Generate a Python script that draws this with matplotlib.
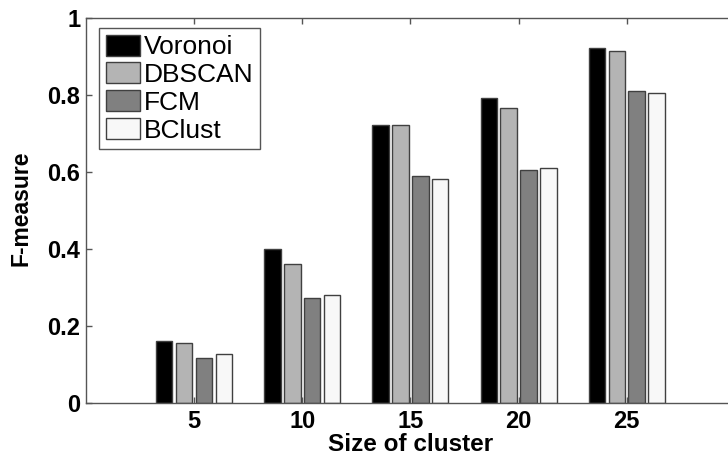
import matplotlib
matplotlib.use('Agg')
import matplotlib.pyplot as plt
import numpy as np

# cluster sizes on the x axis
sizes = [5, 10, 15, 20, 25]

# F-measure per method
voronoi = [0.161, 0.400, 0.722, 0.792, 0.921]
dbscan = [0.157, 0.362, 0.722, 0.766, 0.914]
fcm = [0.116, 0.274, 0.590, 0.606, 0.810]
bclust = [0.128, 0.281, 0.581, 0.610, 0.806]

methods = ['Voronoi', 'DBSCAN', 'FCM', 'BClust']
colors = ['#000000', '#b4b4b4', '#808080', '#f8f8f8']

plt.rcParams['font.family'] = ['Liberation Sans', 'DejaVu Sans']

fig = plt.figure(figsize = (7.28, 4.57), dpi = 100)
ax = fig.add_axes([0.118, 0.118, 0.8915, 0.8426])

x = np.array(sizes, dtype = float)
step = 0.92
width = 0.76
series = [voronoi, dbscan, fcm, bclust]
for i, (vals, name, col) in enumerate(zip(series, methods, colors)):
    ax.bar(x + (i - 1.5) * step, vals, width, color = col, edgecolor = '#404040',
           linewidth = 1.0, label = name)

ax.set_xlim(0, 30)
ax.set_ylim(0, 1)
ax.set_xticks(sizes)
ax.set_yticks([0, 0.2, 0.4, 0.6, 0.8, 1])
ax.set_yticklabels(['0', '0.2', '0.4', '0.6', '0.8', '1'])

for lab in ax.get_xticklabels() + ax.get_yticklabels():
    lab.set_fontweight('bold')
    lab.set_fontsize(17)

ax.tick_params(axis = 'x', pad = 5)
ax.tick_params(axis = 'y', pad = 4)
ax.tick_params(direction = 'in', length = 4, width = 1, color = '#555555',
               top = True, right = True)
for s in ax.spines.values():
    s.set_color('#555555')
    s.set_linewidth(1)

ax.set_xlabel('Size of cluster', fontsize = 17.5, fontweight = 'bold', labelpad = 0)
ax.set_ylabel('F-measure', fontsize = 16.5, fontweight = 'bold')
ax.yaxis.set_label_coords(-0.083, 0.506)

leg = ax.legend(loc = 'upper left', bbox_to_anchor = (13 / 649, 1 - 10 / 385),
                borderaxespad = 0, fontsize = 19, handlelength = 1.3,
                handleheight = 0.85, handletextpad = 0.15, labelspacing = 0.12,
                borderpad = 0.25, fancybox = False, framealpha = 1)
leg.get_frame().set_edgecolor('#555555')
leg.get_frame().set_linewidth(1)

fig.savefig('out.png', dpi = 100)
